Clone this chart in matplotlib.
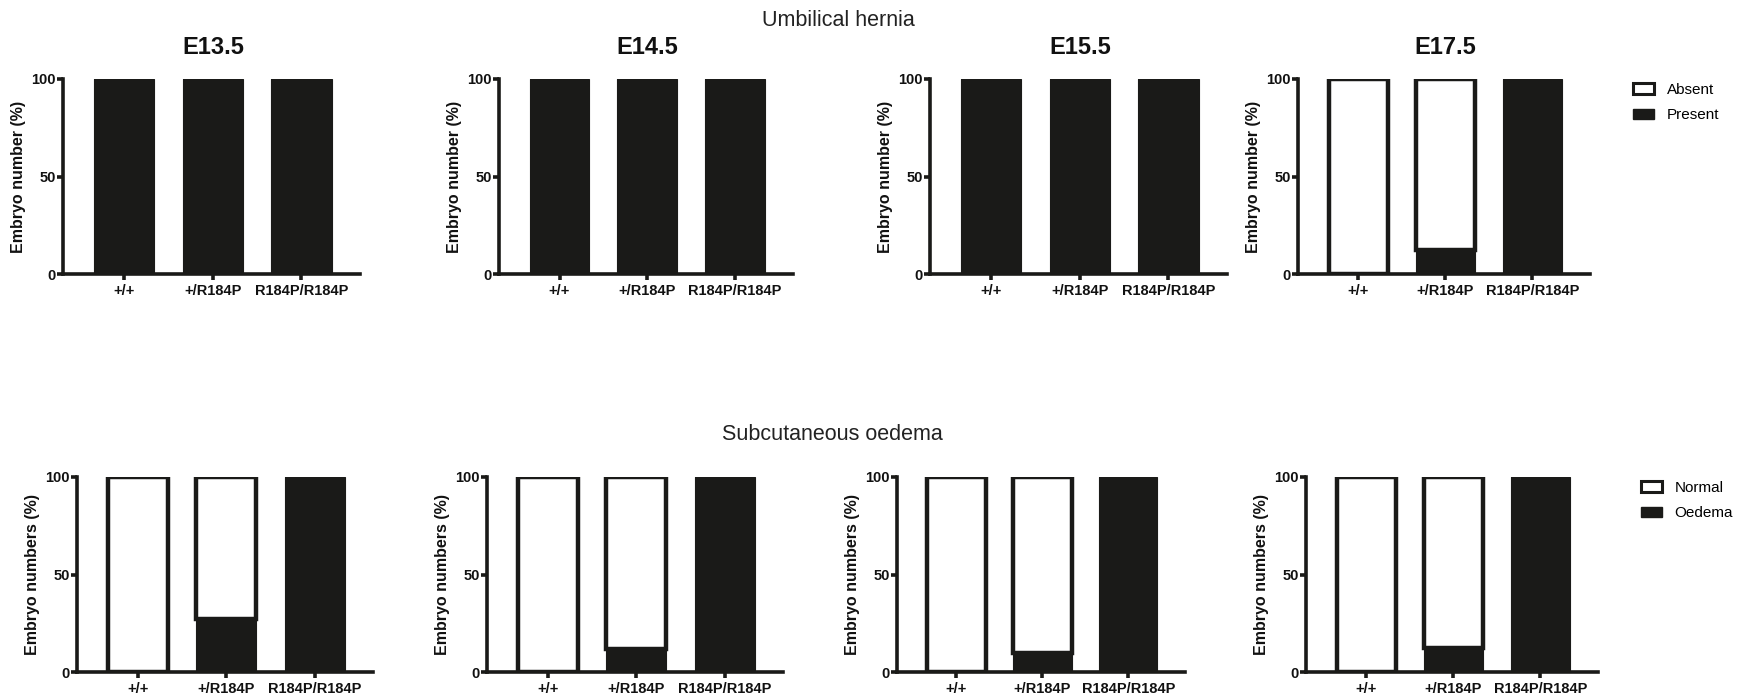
import matplotlib
matplotlib.use("Agg")
import matplotlib.pyplot as plt
from matplotlib.patches import Patch
from matplotlib.transforms import blended_transform_factory

plt.rcParams['font.family'] = ['Liberation Sans', 'DejaVu Sans']

# ---- data ----
genotypes = ["+/+", "+/R184P", "R184P/R184P"]
stages = ["E13.5", "E14.5", "E15.5", "E17.5"]

# Umbilical hernia: % of embryos with hernia present, per stage
hernia_present = {
    "E13.5": [100, 100, 100],
    "E14.5": [100, 100, 100],
    "E15.5": [100, 100, 100],
    "E17.5": [0, 12.5, 100],
}

# Subcutaneous oedema: % of embryos with oedema, per stage
oedema_present = {
    "E13.5": [0, 27, 100],
    "E14.5": [0, 12, 100],
    "E15.5": [0, 10, 100],
    "E17.5": [0, 12.5, 100],
}

yticks = [0, 50, 100]

# ---- layout (pixels) ----
W, H = 1760, 698
fig = plt.figure(figsize=(W / 100, H / 100), dpi=100)
fig.patch.set_facecolor("white")

BLACK = "#1a1a18"
LW = 2.6

# (left spine x, axis length) for each panel, top and bottom rows
top_boxes = [(63, 297), (499, 294), (930, 297), (1298, 292)]
bot_boxes = [(77, 296), (487, 296), (897, 288), (1306, 292)]
top_y = (79, 274)
bot_y = (477, 672)


def make_axes(x0, length, ytop, ybot):
    return fig.add_axes([x0 / W, 1 - ybot / H, length / W, (ybot - ytop) / H])


def style_axes(ax, ylabel):
    ax.set_ylim(0, 100)
    ax.set_yticks(yticks)
    ax.set_yticklabels([str(v) for v in yticks])
    pos = list(range(len(genotypes)))
    ax.set_xticks(pos)
    ax.set_xticklabels(genotypes)
    ax.set_xlim(-0.69, 2.66)
    for s in ("top", "right"):
        ax.spines[s].set_visible(False)
    for s in ("left", "bottom"):
        ax.spines[s].set_linewidth(LW)
        ax.spines[s].set_color(BLACK)
        ax.spines[s].set_capstyle("projecting")
    ax.tick_params(axis="y", length=4, width=LW, pad=1, labelsize=10.5,
                   color=BLACK)
    ax.tick_params(axis="x", length=4, width=LW, pad=3, labelsize=10.5,
                   color=BLACK)
    for lab in ax.get_xticklabels() + ax.get_yticklabels():
        lab.set_fontweight("bold")
        lab.set_color("#111111")
    ax.set_ylabel(ylabel, fontsize=11.5, fontweight="bold", labelpad=4,
                  color="#111111")


def draw_bars(ax, present):
    pos = list(range(len(genotypes)))
    absent = [100 - v for v in present]
    width = 0.68
    ax.bar(pos, absent, width, bottom=present, color="white",
           edgecolor=BLACK, linewidth=3.2, zorder=2)
    ax.bar(pos, present, width, color=BLACK, edgecolor=BLACK,
           linewidth=0.8, zorder=3)


for (x0, length), stage in zip(top_boxes, stages):
    ax = make_axes(x0, length, *top_y)
    draw_bars(ax, hernia_present[stage])
    style_axes(ax, "Embryo number (%)")
    tr = blended_transform_factory(ax.transData, ax.transAxes)
    ax.text(1, 1.159, stage, transform=tr, ha="center", va="center",
            fontsize=17, fontweight="bold", color="#111111")

for (x0, length), stage in zip(bot_boxes, stages):
    ax = make_axes(x0, length, *bot_y)
    draw_bars(ax, oedema_present[stage])
    style_axes(ax, "Embryo numbers (%)")

# section headings
fig.text(838 / W, 1 - 20 / H, "Umbilical hernia", ha="center", va="center",
         fontsize=15.5, color="#222222")
fig.text(832 / W, 1 - 435 / H, "Subcutaneous oedema", ha="center",
         va="center", fontsize=15.5, color="#222222")

# legends
def add_legend(labels, x, y):
    handles = [Patch(facecolor="white", edgecolor=BLACK, linewidth=2.2),
               Patch(facecolor=BLACK, edgecolor=BLACK, linewidth=1)]
    fig.legend(handles, labels, loc="upper left",
               bbox_to_anchor=(x / W, 1 - y / H), frameon=False,
               fontsize=11, handlelength=1.4, handleheight=0.7,
               handletextpad=0.8, labelspacing=0.75, borderaxespad=0,
               borderpad=0)

add_legend(["Absent", "Present"], 1633, 83)
add_legend(["Normal", "Oedema"], 1641, 481)

fig.savefig("out.png", dpi=100, facecolor="white")
